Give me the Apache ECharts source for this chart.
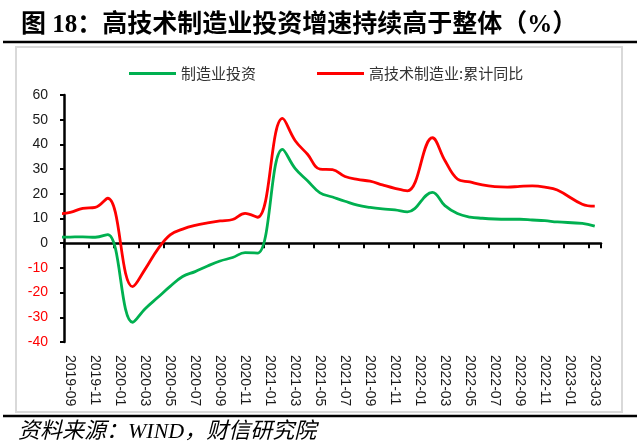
<!DOCTYPE html>
<html>
<head>
<meta charset="utf-8">
<script src="https://cdn.jsdelivr.net/npm/echarts@6/dist/echarts.min.js"></script>
<style>
  html, body { margin: 0; padding: 0; background: #fff; }
  #chart { width: 640px; height: 447px; }
</style>
</head>
<body>
<div id="chart"></div>
<script>
// months of data, Jan missing (Jan-Feb reported together)
const months = ['2019-08', '2019-09', '2019-10', '2019-11', '2019-12',
    '2020-01', '2020-02', '2020-03', '2020-04', '2020-05', '2020-06', '2020-07', '2020-08', '2020-09', '2020-10', '2020-11', '2020-12',
    '2021-01', '2021-02', '2021-03', '2021-04', '2021-05', '2021-06', '2021-07', '2021-08', '2021-09', '2021-10', '2021-11', '2021-12',
    '2022-01', '2022-02', '2022-03', '2022-04', '2022-05', '2022-06', '2022-07', '2022-08', '2022-09', '2022-10', '2022-11', '2022-12',
    '2023-01', '2023-02', '2023-03'];

const mfg = [2.4, 2.5, 2.6, 2.4, 3.5,
    null, -32.0, -26.5, -22.0, -17.5, -13.5, -11.5, -9.2, -7.2, -5.8, -3.8, -4.0,
    null, 38.0, 30.3, 25.3, 20.4, 18.7, 17.0, 15.4, 14.5, 13.9, 13.5, 12.7,
    null, 20.6, 15.2, 12.0, 10.6, 10.1, 9.8, 9.7, 9.7, 9.4, 9.1, 8.6,
    null, 8.0, 6.9];

const hiTech = [11.8, 12.5, 14.1, 14.5, 18.2,
    null, -17.6, -10.5, -2.5, 3.4, 5.7, 7.2, 8.2, 9.0, 9.6, 12.1, 10.5,
    null, 50.5, 41.6, 36.0, 30.0, 29.8, 27.0, 25.8, 25.1, 23.6, 22.2, 21.2,
    null, 42.7, 33.5, 26.0, 24.8, 23.6, 22.9, 22.7, 23.0, 23.2, 22.7, 21.5,
    null, 15.8, 15.0];

// axis shows 2019-09 .. 2023-03, the 2019-08 point sits just left of it
const axisMonths = months.slice(1);

const names = ['制造业投资', '高技术制造业:累计同比'];
const colors = ['#00b050', '#ff0000'];

function toPoints(vals) {
    let pts = [];
    vals.forEach((v, i) => {
        if (v !== null) pts.push([i - 1, v]);
    });
    return pts;
}

const cjk = '"Noto Sans CJK SC", sans-serif';

let myChart = echarts.init(document.getElementById('chart'));
let option = {
    animation: false,
    title: {
        text: '图 18：高技术制造业投资增速持续高于整体（%）',
        left: 16,
        top: 8,
        textStyle: {
            fontFamily: '"Liberation Serif", "Noto Sans CJK SC"',
            fontWeight: 'bold',
            fontSize: 25,
            color: '#000'
        }
    },
    legend: {
        data: names,
        left: 124,
        top: 61,
        icon: 'rect',
        itemWidth: 47,
        itemHeight: 3,
        itemGap: 61,
        textStyle: {
            fontFamily: cjk,
            fontSize: 15,
            color: '#333'
        }
    },
    grid: {
        left: 64,
        right: 39,
        top: 95,
        bottom: 105
    },
    xAxis: [
        {
            type: 'category',
            data: axisMonths,
            boundaryGap: true,
            position: 'bottom',
            axisLine: {show: false, onZero: false},
            axisTick: {show: false},
            splitLine: {show: false},
            axisLabel: {
                interval: 1,
                rotate: -90,
                margin: 13,
                fontFamily: '"Liberation Sans"',
                fontSize: 14,
                color: '#1a1a1a'
            }
        },
        {
            type: 'value',
            min: -0.5,
            max: 42.5,
            interval: 2,
            position: 'bottom',
            axisLine: {show: true, onZero: true, lineStyle: {color: '#000', width: 2.5}},
            axisTick: {show: true, length: 5, lineStyle: {color: '#000', width: 2}},
            axisLabel: {show: false},
            splitLine: {show: false}
        }
    ],
    yAxis: {
        type: 'value',
        min: -40,
        max: 60,
        interval: 10,
        axisLine: {show: true, onZero: false, lineStyle: {color: '#000', width: 2.5}},
        axisTick: {show: true, length: 4, lineStyle: {color: '#000', width: 2}},
        splitLine: {show: false},
        axisLabel: {
            margin: 16,
            fontFamily: '"Liberation Sans"',
            fontSize: 14,
            color: function (value) {
                return value < 0 ? '#ff0000' : '#1a1a1a';
            }
        }
    },
    series: [
        {
            name: names[0],
            type: 'line',
            xAxisIndex: 1,
            data: toPoints(mfg),
            smooth: 0.4,
            showSymbol: false,
            clip: true,
            itemStyle: {color: colors[0]},
            lineStyle: {color: colors[0], width: 2.8}
        },
        {
            name: names[1],
            type: 'line',
            xAxisIndex: 1,
            data: toPoints(hiTech),
            smooth: 0.4,
            showSymbol: false,
            clip: true,
            itemStyle: {color: colors[1]},
            lineStyle: {color: colors[1], width: 2.8}
        }
    ],
    graphic: [
        {
            type: 'rect',
            z: -10,
            shape: {x: 16, y: 47, width: 606, height: 365},
            style: {fill: 'none', stroke: '#d9d9d9', lineWidth: 2}
        },
        {
            type: 'line',
            shape: {x1: 3, y1: 42, x2: 637, y2: 42},
            style: {stroke: '#000', lineWidth: 2.5}
        },
        {
            type: 'line',
            shape: {x1: 3, y1: 416, x2: 637, y2: 416},
            style: {stroke: '#000', lineWidth: 2.5}
        },
        {
            type: 'text',
            left: 18,
            top: 421,
            style: {
                text: '资料来源：WIND，财信研究院',
                fontFamily: '"Liberation Serif", "Noto Sans CJK SC"',
                fontStyle: 'italic',
                fontSize: 22,
                fill: '#000'
            }
        }
    ]
};
myChart.setOption(option);
</script>
</body>
</html>
